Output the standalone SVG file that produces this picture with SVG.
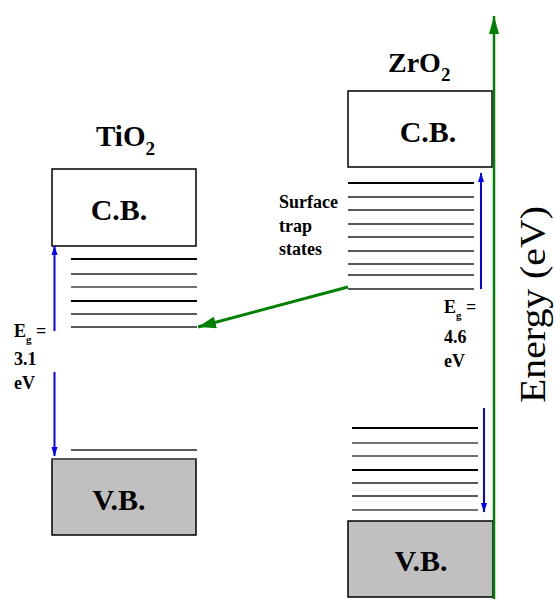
<svg xmlns="http://www.w3.org/2000/svg" width="554" height="599" viewBox="0 0 554 599">
<style>
.lbl{font-family:"Liberation Serif","Times New Roman",serif;font-weight:bold;fill:#000}
.box{fill:#fff;stroke:#000;stroke-width:1.5}
.vb{fill:#c0c0c0;stroke:#000;stroke-width:1.5}
.tk{stroke:#000;stroke-width:2}
.tn{stroke:#222;stroke-width:1.6}
.tg{stroke:#444;stroke-width:1.5}
.blue{stroke:#0000ff;stroke-width:2;fill:none}
.green{stroke:#008000;stroke-width:3;fill:none}
</style>
<defs>
<marker id="ab" markerUnits="userSpaceOnUse" markerWidth="10" markerHeight="16" refX="15" refY="5" viewBox="0 0 16 10" orient="auto"><path d="M0,0 L16,5 L0,10 Z" fill="#0000ff"/></marker>
<marker id="ag" markerUnits="userSpaceOnUse" markerWidth="18" markerHeight="12" refX="18" refY="6" viewBox="0 0 18 12" orient="auto"><path d="M0,0 L18,6 L0,12 Z" fill="#008000"/></marker>
<marker id="aa" markerUnits="userSpaceOnUse" markerWidth="18" markerHeight="10" refX="18" refY="5" viewBox="0 0 18 10" orient="auto"><path d="M0,0 L18,5 L0,10 Z" fill="#008000"/></marker>
</defs>

<g id="tio2">
<text class="lbl" x="96" y="146" font-size="29">TiO<tspan font-size="19" dy="9">2</tspan></text>
</g>
<g id="tio2-cb">
<rect class="box" x="52" y="169" width="144" height="77"/>
<text class="lbl" x="119" y="220" font-size="30" text-anchor="middle">C.B.</text>
</g>
<g id="tio2-traps">
<line class="tk" x1="71" y1="259" x2="197" y2="259"/>
<line class="tn" x1="71" y1="274" x2="197" y2="274"/>
<line class="tg" x1="71" y1="287" x2="197" y2="287"/>
<line class="tk" x1="71" y1="301" x2="197" y2="301"/>
<line class="tn" x1="71" y1="314" x2="197" y2="314"/>
<line class="tn" x1="71" y1="327" x2="197" y2="327"/>
</g>
<g id="tio2-eg">
<text class="lbl" x="14" y="337" font-size="18">E<tspan font-size="11" dy="6">g</tspan><tspan dy="-6"> =</tspan></text>
<text class="lbl" x="14" y="365" font-size="18">3.1</text>
<text class="lbl" x="14" y="389" font-size="18">eV</text>
</g>
<g id="tio2-vb">
<line class="tn" x1="71" y1="450" x2="197" y2="450" stroke-width="1.2"/>
<rect class="vb" x="52" y="459" width="144" height="76"/>
<line x1="52" y1="459" x2="196" y2="459" stroke="#555" stroke-width="2"/>
<text class="lbl" x="119" y="510" font-size="30" text-anchor="middle">V.B.</text>
</g>

<g id="zro2">
<text class="lbl" x="388" y="72" font-size="28">ZrO<tspan font-size="19" dy="9">2</tspan></text>
</g>
<g id="zro2-cb">
<rect class="box" x="348" y="91" width="144" height="76"/>
<text class="lbl" x="428" y="142" font-size="30" text-anchor="middle">C.B.</text>
</g>
<g id="zro2-traps">
<line class="tk" x1="348" y1="183" x2="474" y2="183"/>
<line class="tn" x1="348" y1="197" x2="474" y2="197"/>
<line class="tn" x1="348" y1="210" x2="474" y2="210"/>
<line class="tn" x1="348" y1="224" x2="474" y2="224"/>
<line class="tn" x1="348" y1="237" x2="474" y2="237"/>
<line class="tn" x1="348" y1="251" x2="474" y2="251"/>
<line class="tn" x1="348" y1="264" x2="474" y2="264"/>
<line class="tn" x1="348" y1="275" x2="474" y2="275"/>
<line class="tn" x1="348" y1="289" x2="474" y2="289"/>
</g>
<g id="surface-label">
<text class="lbl" x="279" y="208" font-size="18">Surface</text>
<text class="lbl" x="279" y="232" font-size="18">trap</text>
<text class="lbl" x="279" y="255" font-size="18">states</text>
</g>
<g id="zro2-eg">
<text class="lbl" x="444" y="313" font-size="18">E<tspan font-size="11" dy="6">g</tspan><tspan dy="-6"> =</tspan></text>
<text class="lbl" x="444" y="343" font-size="18">4.6</text>
<text class="lbl" x="444" y="367" font-size="18">eV</text>
</g>
<g id="zro2-lower">
<line class="tk" x1="352" y1="428" x2="478" y2="428"/>
<line class="tg" x1="352" y1="443" x2="478" y2="443"/>
<line class="tg" x1="352" y1="456" x2="478" y2="456"/>
<line class="tk" x1="352" y1="470" x2="478" y2="470"/>
<line class="tn" x1="352" y1="483" x2="478" y2="483"/>
<line class="tn" x1="352" y1="496" x2="478" y2="496"/>
<line class="tg" x1="352" y1="510" x2="478" y2="510"/>
</g>
<g id="zro2-vb">
<rect class="vb" x="348" y="521" width="145" height="76"/>
<text class="lbl" x="421" y="571" font-size="30" text-anchor="middle">V.B.</text>
</g>
<g id="axis-label">
<text x="545" y="403" font-family="Liberation Serif,'Times New Roman',serif" font-size="36" textLength="197" lengthAdjust="spacingAndGlyphs" transform="rotate(-90 545 403)">Energy (eV)</text>
</g>

<g id="connectors">
<line class="blue" x1="54.5" y1="331" x2="54.5" y2="246" marker-end="url(#ab)"/>
<line class="blue" x1="54.5" y1="372" x2="54.5" y2="456" marker-end="url(#ab)"/>
<line class="blue" x1="481" y1="289" x2="481" y2="173" marker-end="url(#ab)"/>
<line class="blue" x1="484" y1="408" x2="484" y2="512" marker-end="url(#ab)"/>
<line class="green" x1="348" y1="287" x2="198" y2="327" marker-end="url(#ag)"/>
<line x1="494" y1="599" x2="494" y2="16" stroke="#008000" stroke-width="2.5" marker-end="url(#aa)"/>
</g>
</svg>
